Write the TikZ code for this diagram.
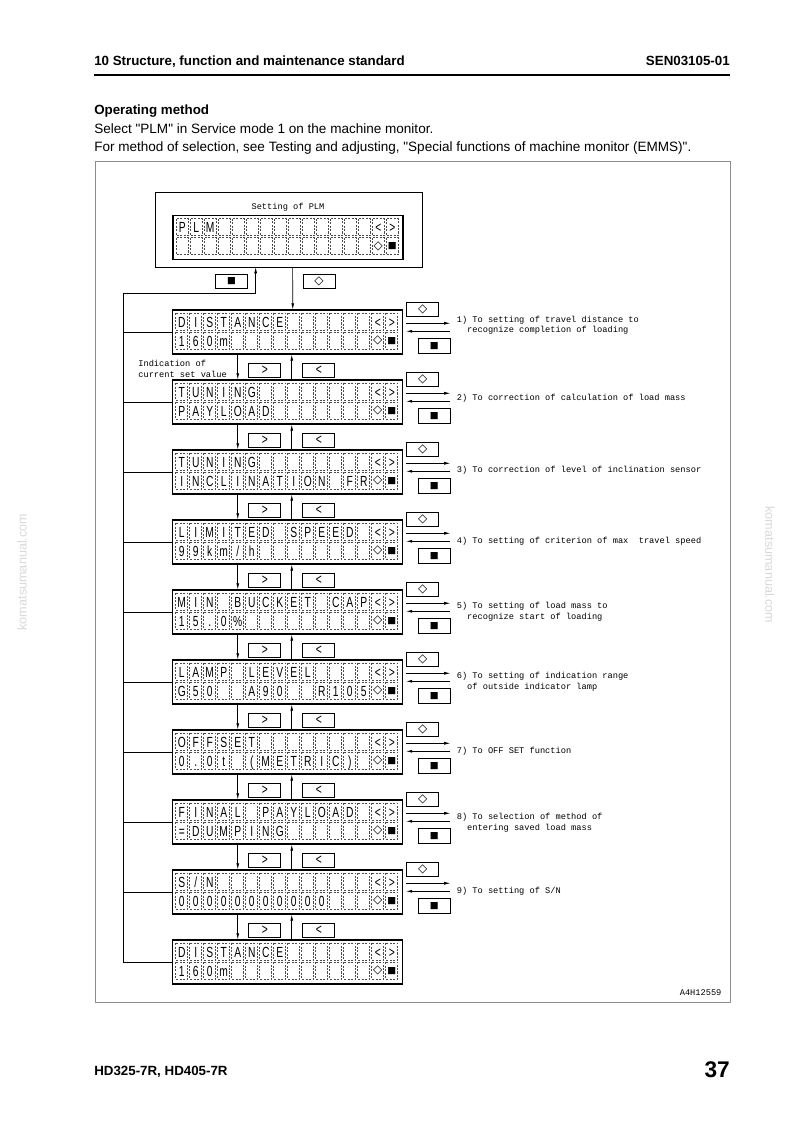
\documentclass[tikz,border=0pt]{standalone}
\usepackage{fontspec}
\setmainfont{Liberation Sans}
\newfontfamily\pagefont{Liberation Sans}
\newfontfamily\cadfont{Liberation Mono}
\newfontfamily\lcdfont[FakeStretch=0.7]{Liberation Sans}
\newfontfamily\symfont{DejaVu Sans}
\usetikzlibrary{arrows.meta, positioning, calc}

\newcommand\symDiamond{{\symfont\fontsize{9pt}{9pt}\selectfont ◇}}
\newcommand\symBlock{{\symfont\fontsize{7pt}{7pt}\selectfont ■}}

\tikzset{
  lcd/.style={
    rectangle, draw=black, line width=1.1pt,
    minimum width=172.5pt, minimum height=33pt, inner sep=0pt
  },
  cellbox/.style={draw=black!70, line width=0.45pt, dash pattern=on 1.6pt off 1pt},
  lcdchar/.style={font=\lcdfont\fontsize{11pt}{11pt}\selectfont, inner sep=0pt, text height=7.9pt, text depth=0pt},
  lcdsym/.style={inner sep=0pt},
  btn/.style={
    rectangle, draw=black, line width=0.5pt,
    minimum width=24pt, minimum height=11pt, inner sep=0pt,
    font=\lcdfont\fontsize{11pt}{11pt}\selectfont
  },
  note/.style={font=\cadfont\fontsize{6.5pt}{8.2pt}\selectfont, align=left, inner sep=1pt, anchor=west},
  arr/.style={-{Latex[length=4.5pt,width=2.2pt]}, line width=0.45pt},
  link/.style={line width=0.45pt},
  frame/.style={draw=black!45, line width=0.6pt},
  pagetext/.style={inner sep=0pt, anchor=base west, font=\pagefont\fontsize{10.15pt}{12pt}\selectfont},
  pagehead/.style={inner sep=0pt, anchor=base west, font=\pagefont\bfseries\fontsize{10pt}{12pt}\selectfont}
}

% cells and characters of one display: node, upper line, lower line
\newcommand\lcdcells[3]{%
  \foreach \col in {0,...,15}
    \foreach \rw in {0,1}
      \draw[cellbox] ($(#1.north west)+(4+\col*14,4+\rw*19)$) rectangle ++(12,17);
  \foreach \ch [count=\k from 0] in {#2}
    \node[lcdchar] at ($(#1.north west)+(10+\k*14,12.5)$) {\ch};
  \foreach \ch [count=\k from 0] in {#3}
    \node[lcdchar] at ($(#1.north west)+(10+\k*14,31.5)$) {\ch};
  \node[lcdchar] at ($(#1.north west)+(206,12.5)$) {<};
  \node[lcdchar] at ($(#1.north west)+(220,12.5)$) {>};
  \node[lcdsym] at ($(#1.north west)+(206,31.5)$) {\symDiamond};
  \node[lcdsym] at ($(#1.north west)+(220,31.5)$) {\symBlock};
}

\begin{document}
\begin{tikzpicture}[x=0.75pt, y=-0.75pt]

  \path[fill=white, use as bounding box] (0,0) rectangle (794,1124);

  % page header and text
  \node[pagehead] (head) at (94,66) {10 Structure, function and maintenance standard};
  \node[pagehead, anchor=base east] (docno) at (730,66) {SEN03105-01};
  \draw[line width=1.5pt] (94,75) -- (730,75);
  \node[pagehead] (opm) at (94,114) {Operating method};
  \node[pagetext] (sel) at (94,133) {Select "PLM" in Service mode 1 on the machine monitor.};
  \node[pagetext] (ref) at (94,151) {For method of selection, see Testing and adjusting, "Special functions of machine monitor (EMMS)".};

  \draw[frame] (95,161) rectangle (730,1002);

  % PLM screen
  \node[draw, line width=0.5pt, minimum width=200.25pt, minimum height=56.25pt] (plm) at (288.5,229.5) {};
  \node[note, anchor=center] (plmtitle) at (288,207) {Setting of PLM};
  \node[lcd] (lcd0) at (288,237.5) {};
  \lcdcells{lcd0}{P,L,M}{~}

  % displays
  \node[lcd] (lcd1) at (287.5,332) {};
  \node[lcd, below=18.4pt of lcd1] (lcd2) {};
  \node[lcd, below=18.4pt of lcd2] (lcd3) {};
  \node[lcd, below=18.4pt of lcd3] (lcd4) {};
  \node[lcd, below=18.4pt of lcd4] (lcd5) {};
  \node[lcd, below=18.4pt of lcd5] (lcd6) {};
  \node[lcd, below=18.4pt of lcd6] (lcd7) {};
  \node[lcd, below=18.4pt of lcd7] (lcd8) {};
  \node[lcd, below=18.4pt of lcd8] (lcd9) {};
  \node[lcd, below=18.4pt of lcd9] (lcd10) {};

  \lcdcells{lcd1}{D,I,S,T,A,N,C,E}{1,6,0,m}
  \lcdcells{lcd2}{T,U,N,I,N,G}{P,A,Y,L,O,A,D}
  \lcdcells{lcd3}{T,U,N,I,N,G}{I,N,C,L,I,N,A,T,I,O,N,~,F,R}
  \lcdcells{lcd4}{L,I,M,I,T,E,D,~,S,P,E,E,D}{9,9,k,m,/,h}
  \lcdcells{lcd5}{M,I,N,~,B,U,C,K,E,T,~,C,A,P}{1,5,{.},0,\%}
  \lcdcells{lcd6}{L,A,M,P,~,L,E,V,E,L}{G,5,0,~,~,A,9,0,~,~,R,1,0,5}
  \lcdcells{lcd7}{O,F,F,S,E,T}{0,{.},0,t,~,{(},M,E,T,R,I,C,{)}}
  \lcdcells{lcd8}{F,I,N,A,L,~,P,A,Y,L,O,A,D}{=,D,U,M,P,I,N,G}
  \lcdcells{lcd9}{S,/,N}{0,0,0,0,0,0,0,0,0,0,0}
  \lcdcells{lcd10}{D,I,S,T,A,N,C,E}{1,6,0,m}

  % PLM screen <-> first display
  \draw[arr] ($(plm.south west)+(138,0)$) -- ($(lcd1.north west)+(121,0)$);
  \node[btn] (bk0) at ($(plm.south)+(-57,14)$) {\symBlock};
  \node[btn] (ok0) at ($(plm.south)+(30.5,14)$) {\symDiamond};
  \coordinate (ret) at ($(plm.south west)+(-31,26)$);
  \draw[arr] (lcd10.west) -| (ret) -| ($(plm.south west)+(101,0)$);
  \node[note] (hint) at ($(lcd1.south west)+(-35,14)$) {Indication of\\current set value};

  % scrolling and setting keys
  \foreach \i [evaluate=\i as \j using int(\i+1)] in {1,...,9} {
    \draw[arr] ($(lcd\i.south west)+(66,0)$) -- ($(lcd\j.north west)+(66,0)$);
    \draw[arr] ($(lcd\j.north west)+(120,0)$) -- ($(lcd\i.south west)+(120,0)$);
    \node[btn] (nx\i) at ($(lcd\i.south west)+(93,15.5)$) {>};
    \node[btn] (pv\i) at ($(lcd\i.south west)+(147,15.5)$) {<};
    \node[btn] (ok\i) at ($(lcd\i.north east)+(19.5,0)$) {\symDiamond};
    \node[btn] (bk\i) at ($(lcd\i.north east)+(31,36.5)$) {\symBlock};
    \draw[arr] ($(lcd\i.north east)+(3,14)$) -- ($(lcd\i.north east)+(47,14)$);
    \draw[arr] ($(lcd\i.north east)+(47,22)$) -- ($(lcd\i.north east)+(3,22)$);
    \draw[link] (lcd\i.west) -- (lcd\i.west -| ret);
  }

  % targets
  \node[note] (lbl1) at ($(lcd1.north east)+(52,16)$) {1) To setting of travel distance to\\\phantom{1)}recognize completion of loading};
  \node[note] (lbl2) at ($(lcd2.north east)+(52,19)$) {2) To correction of calculation of load mass};
  \node[note] (lbl3) at ($(lcd3.north east)+(52,21)$) {3) To correction of level of inclination sensor};
  \node[note] (lbl4) at ($(lcd4.north east)+(52,22)$) {4) To setting of criterion of max\ \ travel speed};
  \node[note] (lbl5) at ($(lcd5.north east)+(52,22.5)$) {5) To setting of load mass to\\\phantom{5)}recognize start of loading};
  \node[note] (lbl6) at ($(lcd6.north east)+(52,22.5)$) {6) To setting of indication range\\\phantom{6)}of outside indicator lamp};
  \node[note] (lbl7) at ($(lcd7.north east)+(52,22)$) {7) To OFF SET function};
  \node[note] (lbl8) at ($(lcd8.north east)+(52,23.5)$) {8) To selection of method of\\\phantom{8)}entering saved load mass};
  \node[note] (lbl9) at ($(lcd9.north east)+(52,22)$) {9) To setting of S/N};

  \node[note, anchor=base east] (figno) at (723,995) {A4H12559};

  % footer and watermark
  \node[pagehead] (model) at (94,1075) {HD325-7R, HD405-7R};
  \node[pagehead, anchor=base east, font=\pagefont\bfseries\fontsize{17pt}{18pt}\selectfont] (page) at (730,1077) {37};
  \node[rotate=90, text=black!15, font=\fontsize{9.5pt}{10pt}\selectfont] (wmleft) at (22,572) {komatsumanual.com};
  \node[rotate=-90, text=black!15, font=\fontsize{9.5pt}{10pt}\selectfont] (wmright) at (770,565) {komatsumanual.com};

\end{tikzpicture}
\end{document}
